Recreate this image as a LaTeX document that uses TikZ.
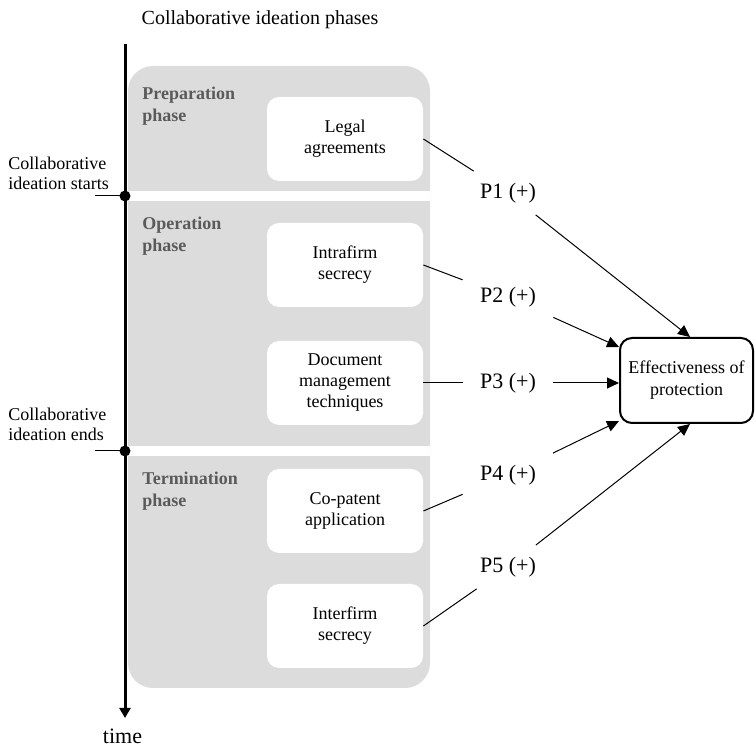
\documentclass[tikz,border=0pt]{standalone}
\usepackage{fontspec}
\setmainfont{Liberation Serif}
\usetikzlibrary{arrows.meta}
\definecolor{panelgray}{HTML}{DCDCDC}
\definecolor{phasegray}{HTML}{5A5A5A}
\begin{document}
\begin{tikzpicture}[x=0.5pt,y=-0.5pt,
  txt/.style={font=\fontsize{9}{10.5}\selectfont, align=center},
  itembox/.style={txt, fill=white, rounded corners=6pt, minimum width=78pt, minimum height=42pt, inner sep=1pt, execute at begin node={\rule{0pt}{10pt}}},
  phaselbl/.style={font=\fontsize{9}{11}\selectfont\bfseries, text=phasegray, align=left, anchor=north west, inner sep=0pt},
  sidelbl/.style={font=\fontsize{9}{10}\selectfont, align=left, anchor=north west, inner sep=0pt},
  plbl/.style={font=\fontsize{11}{13}\selectfont, minimum width=45pt, minimum height=21.5pt, inner sep=0pt},
  conn/.style={line width=0.5pt},
  arr/.style={conn, -{Triangle[length=6pt,width=5.5pt]}},
  effbox/.style={txt, draw, line width=1pt, rounded corners=6pt, minimum width=66.5pt, minimum height=42.5pt, inner sep=1pt, font=\fontsize{9}{11}\selectfont, execute at begin node={\rule{0pt}{10pt}}}
]
\useasboundingbox (0,0) rectangle (755,747);

% panels
\fill[panelgray, rounded corners=12.5pt] (128,66) rectangle (430,688);
\fill[white] (128,191) rectangle (430,201);
\fill[white] (128,446) rectangle (430,456);

% title
\node[font=\fontsize{10}{12}\selectfont, anchor=base, inner sep=0pt] (title) at (260,25) {Collaborative ideation phases};

% timeline
\coordinate (ttop) at (125,44);
\coordinate (tend) at (125,718);
\draw[line width=1.5pt, -{Triangle[length=5pt,width=5.5pt]}] (ttop) -- (tend);
\node[font=\fontsize{11}{13}\selectfont, anchor=base, inner sep=0pt] (time) at (122.5,744) {time};

\node[circle, fill=black, inner sep=0pt, minimum size=5.5pt] (d1) at (125,196) {};
\node[circle, fill=black, inner sep=0pt, minimum size=5.5pt] (d2) at (125,451) {};
\coordinate (t1) at (95,196);
\coordinate (t2) at (95,451);
\draw[conn] (t1) -- (d1.center);
\draw[conn] (t2) -- (d2.center);

\node[sidelbl] (startlbl) at (8,157) {Collaborative\\ideation starts};
\node[sidelbl] (endlbl) at (8,408) {Collaborative\\ideation ends};

% phase labels
\node[phaselbl] (prep) at (142,87) {Preparation\\phase};
\node[phaselbl] (oper) at (142,217) {Operation\\phase};
\node[phaselbl] (term) at (142,472) {Termination\\phase};

% item boxes
\node[itembox] (legal) at (345,139) {Legal\\agreements};
\node[itembox] (intra) at (345,265) {Intrafirm\\secrecy};
\node[itembox] (docm) at (345,383) {Document\\management\\techniques};
\node[itembox] (copat) at (345,511) {Co-patent\\application};
\node[itembox] (inter) at (345,626) {Interfirm\\secrecy};

% P labels
\node[plbl] (p1) at (508,193) {P1 (+)};
\node[plbl] (p2) at (508,297) {P2 (+)};
\node[plbl] (p3) at (508,383) {P3 (+)};
\node[plbl] (p4) at (508,475) {P4 (+)};
\node[plbl] (p5) at (508,567) {P5 (+)};

% effectiveness box
\node[effbox] (eff) at (686.5,380.5) {Effectiveness of\\protection};

% connectors
\draw[conn] (legal.east) -- (p1);
\draw[conn] (intra.east) -- (p2);
\draw[conn] (docm.east) -- (p3);
\draw[conn] (copat.east) -- (p4);
\draw[conn] (inter.east) -- (p5);

\draw[arr] (p1) -- ([xshift=1.75pt]eff.north);
\draw[arr] (p2) -- ([yshift=-5pt]eff.north west);
\draw[arr] (p3.east) -- (p3.east -| eff.west);
\draw[arr] (p4) -- ([yshift=1.5pt]eff.south west);
\draw[arr] (p5) -- ([xshift=1.75pt]eff.south);
\end{tikzpicture}
\end{document}
